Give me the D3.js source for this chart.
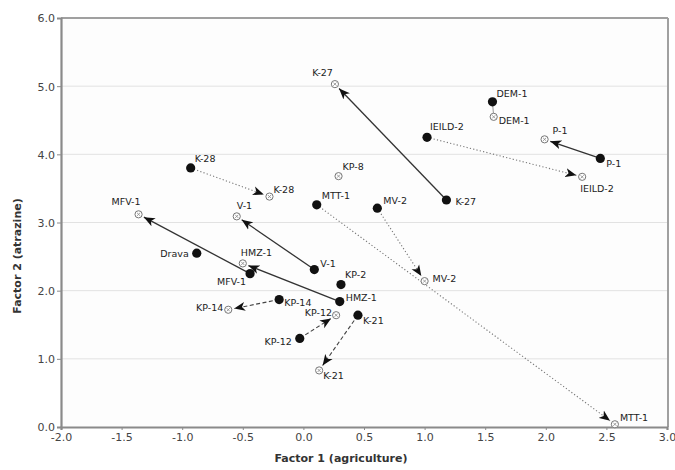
<!DOCTYPE html>
<html><head><meta charset="utf-8">
<script src="https://cdn.jsdelivr.net/npm/d3@7"></script>
<style>
html,body{margin:0;padding:0;background:#fff;}
svg{display:block;}
</style></head>
<body>
<svg id="chart" width="675" height="470"></svg>
<script>
// ---- data ----
const pairNames = ["K-27","DEM-1","P-1","IEILD-2","K-28","MFV-1","V-1","HMZ-1","MTT-1","MV-2","KP-14","KP-12","K-21"];
const fromX = [1.18, 1.56, 2.45, 1.02, -0.93, -0.44, 0.09, 0.30, 0.11, 0.61, -0.20, -0.03, 0.45];
const fromY = [3.33, 4.77, 3.94, 4.25, 3.80, 2.25, 2.31, 1.84, 3.26, 3.21, 1.87, 1.30, 1.64];
const toX   = [0.26, 1.57, 1.99, 2.30, -0.28, -1.36, -0.55, -0.50, 2.57, 1.00, -0.62, 0.27, 0.13];
const toY   = [5.03, 4.55, 4.22, 3.67, 3.38, 3.12, 3.09, 2.40, 0.04, 2.14, 1.72, 1.64, 0.83];
const singleFilledNames = ["Drava","KP-2"];
const singleFilledX = [-0.88, 0.31];
const singleFilledY = [2.55, 2.09];
const singleOpenNames = ["KP-8"];
const singleOpenX = [0.29];
const singleOpenY = [3.68];
const xTicks = [-2.0,-1.5,-1.0,-0.5,0.0,0.5,1.0,1.5,2.0,2.5,3.0];
const yTicks = [0,1,2,3,4,5,6];

// ---- styles (kept separate from data) ----
const lineStyle = {
  "K-27":"solid","DEM-1":"faint","P-1":"solid","IEILD-2":"dot","K-28":"dot","MFV-1":"solid",
  "V-1":"solid","HMZ-1":"solid","MTT-1":"dot","MV-2":"dot","KP-14":"dash","KP-12":"dash","K-21":"dash"
};
const fromLabel = {
  "K-27":[9,5,"start"],"DEM-1":[4,-5,"start"],"P-1":[6,9,"start"],"IEILD-2":[3,-7,"start"],
  "K-28":[4,-6,"start"],"MFV-1":[-4,11,"end"],"V-1":[6,-3,"start"],"HMZ-1":[6,-1,"start"],
  "MTT-1":[5,-6,"start"],"MV-2":[6,-4,"start"],"KP-14":[5,6,"start"],"KP-12":[-8,7,"end"],
  "K-21":[5,9,"start"],"Drava":[-8,4,"end"],"KP-2":[4,-7,"start"]
};
const toLabel = {
  "K-27":[-2,-8,"end"],"DEM-1":[5,7,"start"],"P-1":[8,-5,"start"],"IEILD-2":[-2,15,"start"],
  "K-28":[4,-4,"start"],"MFV-1":[2,-9,"end"],"V-1":[0,-7,"start"],"HMZ-1":[-2,-7,"start"],
  "MTT-1":[5,-3,"start"],"MV-2":[8,1,"start"],"KP-14":[-5,1,"end"],"KP-12":[-4,1,"end"],
  "K-21":[4,9,"start"],"KP-8":[4,-6,"start"]
};

const svg = d3.select("#chart");
const L = 61, R = 667, T = 18, B = 427;
const x = d3.scaleLinear().domain([-2,3]).range([L,R]);
const y = d3.scaleLinear().domain([0,6]).range([B,T]);

// plot background
svg.append("rect").attr("x",L).attr("y",T).attr("width",R-L).attr("height",B-T).attr("fill","#fdfdfd");

// gridlines
svg.append("g").selectAll("line").data(yTicks.filter(d=>d>0&&d<6)).join("line")
  .attr("x1",L).attr("x2",R).attr("y1",d=>y(d)).attr("y2",d=>y(d))
  .attr("stroke","#e2e2e2").attr("stroke-width",1);

// frame top/right
svg.append("line").attr("x1",L).attr("x2",R+1).attr("y1",T).attr("y2",T).attr("stroke","#a0a0a0").attr("stroke-width",2);
svg.append("line").attr("x1",R+1).attr("x2",R+1).attr("y1",T).attr("y2",B).attr("stroke","#a0a0a0").attr("stroke-width",2);

// axes
const fmt = d => d.toFixed(1);
const xAxis = svg.append("g").attr("transform",`translate(0,${B})`)
  .call(d3.axisBottom(x).tickValues(xTicks).tickFormat(fmt).tickSize(3).tickPadding(2));
const yAxis = svg.append("g").attr("transform",`translate(${L},0)`)
  .call(d3.axisLeft(y).tickValues(yTicks).tickFormat(fmt).tickSize(4).tickPadding(2));
[xAxis,yAxis].forEach(g=>{
  g.select(".domain").attr("stroke","#8a8a8a").attr("stroke-width",2.2);
  g.selectAll(".tick line").attr("stroke","#8a8a8a").attr("stroke-width",1);
  g.selectAll(".tick text").attr("fill","#444").attr("font-family","'DejaVu Sans', sans-serif").attr("font-size",11);
});
xAxis.selectAll(".tick text").attr("dy","0.85em");
yAxis.selectAll(".tick text").attr("dy","0.35em");

// axis titles
svg.append("text").attr("x",341).attr("y",462).attr("text-anchor","middle")
  .attr("font-family","'DejaVu Sans', sans-serif").attr("font-size",11).attr("font-weight","bold").attr("fill","#333")
  .text("Factor 1 (agriculture)");
svg.append("text").attr("transform","translate(21,256) rotate(-90)").attr("text-anchor","middle")
  .attr("font-family","'DejaVu Sans', sans-serif").attr("font-size",11).attr("font-weight","bold").attr("fill","#333")
  .text("Factor 2 (atrazine)");

// arrow markers
const defs = svg.append("defs");
defs.append("marker").attr("id","ah").attr("viewBox","0 -5 12 10").attr("refX",11).attr("refY",0)
  .attr("markerWidth",12).attr("markerHeight",10).attr("markerUnits","userSpaceOnUse").attr("orient","auto")
  .append("path").attr("d","M0,-4.5L11,0L0,4.5L3,0Z").attr("fill","#111");

const pairs = pairNames.map((n,i)=>({name:n, x1:fromX[i], y1:fromY[i], x2:toX[i], y2:toY[i]}));

// connecting lines
const gl = svg.append("g");
pairs.forEach(p=>{
  const sx = x(p.x1), sy = y(p.y1), ex = x(p.x2), ey = y(p.y2);
  const dx = ex-sx, dy = ey-sy, len = Math.hypot(dx,dy);
  const st = lineStyle[p.name];
  const short = st==="faint" ? 3 : 6;
  const tx = ex - dx/len*short, ty = ey - dy/len*short;
  const ln = gl.append("line").attr("x1",sx).attr("y1",sy).attr("x2",tx).attr("y2",ty);
  if(st==="solid"){ ln.attr("stroke","#333").attr("stroke-width",1.3).attr("marker-end","url(#ah)"); }
  else if(st==="dot"){ ln.attr("stroke","#777").attr("stroke-width",1.1).attr("stroke-dasharray","1.2,2.2").attr("marker-end","url(#ah)"); }
  else if(st==="dash"){ ln.attr("stroke","#444").attr("stroke-width",1.1).attr("stroke-dasharray","4,2.5").attr("marker-end","url(#ah)"); }
  else { ln.attr("stroke","#999").attr("stroke-width",1); }
});

// open markers
const openPts = pairs.map(p=>({name:p.name, vx:p.x2, vy:p.y2}))
  .concat(singleOpenNames.map((n,i)=>({name:n, vx:singleOpenX[i], vy:singleOpenY[i]})));
const go = svg.append("g");
openPts.forEach(p=>{
  const cx = x(p.vx), cy = y(p.vy);
  go.append("circle").attr("cx",cx).attr("cy",cy).attr("r",3.6).attr("fill","#fff").attr("stroke","#777").attr("stroke-width",1);
  go.append("path").attr("d",`M${cx-1.6},${cy-1.6}L${cx+1.6},${cy+1.6}M${cx-1.6},${cy+1.6}L${cx+1.6},${cy-1.6}`)
    .attr("stroke","#888").attr("stroke-width",0.8);
});

// filled markers
const filledPts = pairs.map(p=>({name:p.name, vx:p.x1, vy:p.y1}))
  .concat(singleFilledNames.map((n,i)=>({name:n, vx:singleFilledX[i], vy:singleFilledY[i]})));
svg.append("g").selectAll("circle").data(filledPts).join("circle")
  .attr("cx",d=>x(d.vx)).attr("cy",d=>y(d.vy)).attr("r",4.6).attr("fill","#111");

// labels
const glab = svg.append("g").attr("font-family","'DejaVu Sans', sans-serif").attr("font-size",9.5).attr("fill","#222");
filledPts.forEach(p=>{
  const o = fromLabel[p.name];
  glab.append("text").attr("x",x(p.vx)+o[0]).attr("y",y(p.vy)+o[1]).attr("text-anchor",o[2]).text(p.name);
});
openPts.forEach(p=>{
  const o = toLabel[p.name];
  glab.append("text").attr("x",x(p.vx)+o[0]).attr("y",y(p.vy)+o[1]).attr("text-anchor",o[2]).text(p.name);
});
</script>
</body></html>
